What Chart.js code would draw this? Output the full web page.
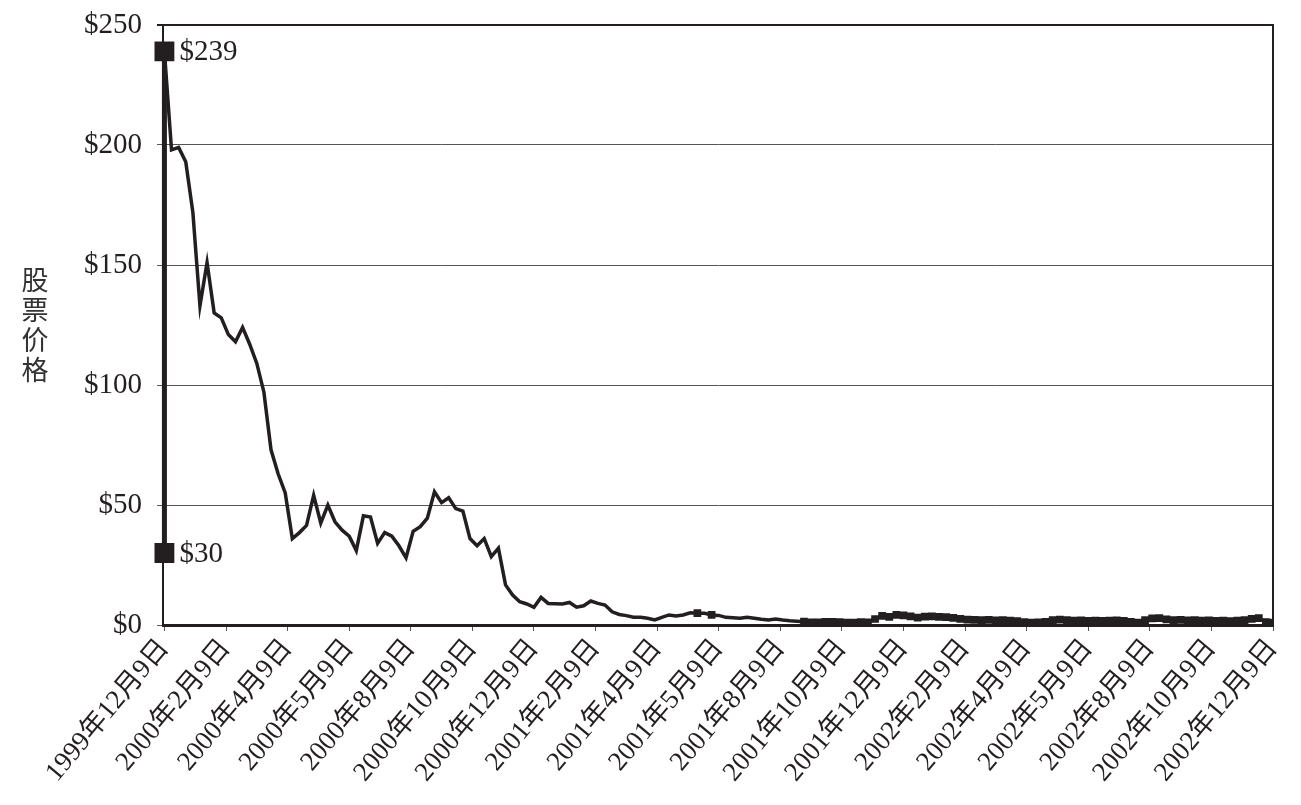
<!DOCTYPE html>
<html>
<head>
<meta charset="utf-8">
<script src="https://cdn.jsdelivr.net/npm/chart.js@4/dist/chart.umd.min.js"></script>
<style>
  body { margin: 0; background: #fff; }
  canvas { display: block; }
</style>
</head>
<body>
<canvas id="myChart" width="1301" height="805"></canvas>
<script>
const xLabels = ['1999年12月9日', '2000年2月9日', '2000年4月9日', '2000年5月9日', '2000年8月9日',
  '2000年10月9日', '2000年12月9日', '2001年2月9日', '2001年4月9日', '2001年5月9日',
  '2001年8月9日', '2001年10月9日', '2001年12月9日', '2002年2月9日', '2002年4月9日',
  '2002年5月9日', '2002年8月9日', '2002年10月9日', '2002年12月9日'];
const yTicks = [0, 50, 100, 150, 200, 250];
const yTitle = '股票价格';

// weekly closing price
const prices = [
  239, 198, 199, 193, 172, 133, 151, 130, 128, 121,
  118, 124, 117, 109, 97, 73, 63, 55, 36, 38.5,
  41.5, 54, 42.5, 50, 43, 39.5, 37, 31, 45.5, 45,
  34, 38.5, 37, 33, 28, 39, 41, 44.5, 55.5, 51,
  53, 48.5, 47.5, 36, 33, 36, 28.5, 32, 16.7, 12.5,
  9.7, 8.75, 7.4, 11.5, 9, 8.9, 8.75, 9.4, 7.4, 8,
  10, 9, 8.3, 5.5, 4.4, 3.9, 3.2, 3.2, 2.8, 2.1,
  3.2, 4.2, 3.75, 4.2, 5.1, 4.9, 4.9, 4.2, 4, 3.2,
  3, 2.8, 3.2, 2.8, 2.4, 2.1, 2.5, 2.1, 1.8, 1.6,
  1.4, 1.1, 1.1, 1.3, 1.3, 1.2, 1.0, 1.0, 1.2, 1.1,
  2.5, 3.8, 3.4, 4.2, 4.0, 3.6, 3.1, 3.5, 3.6, 3.4,
  3.3, 3.0, 2.6, 2.2, 2.1, 2.0, 2.1, 1.9, 2.0, 1.8,
  1.6, 1.2, 1.0, 1.1, 1.3, 2.0, 2.2, 2.0, 1.8, 1.9,
  1.7, 1.8, 1.7, 1.8, 1.9, 1.7, 1.3, 1.0, 2.0, 2.8,
  2.9, 2.3, 2.0, 2.1, 1.9, 2.0, 1.8, 1.9, 1.7, 1.8,
  1.6, 1.8, 2.0, 2.6, 2.9, 1.2, 1.0
];
const rangeMarks = [30, 239]; // low / high

const ink = '#231f20';
const serif = '"Liberation Serif", "Times New Roman", "Noto Sans CJK SC", serif';
const lastIdx = prices.length - 1;

const rangeLabels = {
  id: 'rangeLabels',
  afterDatasetsDraw(chart) {
    const { ctx, scales } = chart;
    ctx.save();
    ctx.fillStyle = ink;
    ctx.font = '29px ' + serif;
    ctx.textAlign = 'left';
    ctx.textBaseline = 'middle';
    rangeMarks.forEach(v => {
      ctx.fillText('$' + v, scales.x.getPixelForValue(0) + 15, scales.y.getPixelForValue(v) + 1);
    });
    ctx.restore();
  }
};

const frame = {
  id: 'frame',
  afterDraw(chart) {
    const { ctx, chartArea: a } = chart;
    ctx.save();
    ctx.strokeStyle = ink;
    ctx.lineWidth = 2;
    ctx.beginPath();
    ctx.moveTo(a.left - 6, a.top);
    ctx.lineTo(a.right, a.top);
    ctx.lineTo(a.right, a.bottom);
    ctx.stroke();
    ctx.restore();
  }
};

const verticalTitle = {
  id: 'verticalTitle',
  afterDraw(chart) {
    const { ctx, chartArea: a } = chart;
    const chars = yTitle.split('');
    const step = 30;
    const mid = (a.top + a.bottom) / 2;
    ctx.save();
    ctx.fillStyle = '#333';
    ctx.font = '27px "Noto Sans CJK SC", sans-serif';
    ctx.textAlign = 'center';
    ctx.textBaseline = 'middle';
    chars.forEach((c, i) => {
      ctx.fillText(c, 35, mid + (i - (chars.length - 1) / 2) * step);
    });
    ctx.restore();
  }
};

new Chart(document.getElementById('myChart'), {
  type: 'line',
  data: {
    datasets: [
      {
        label: 'range',
        data: rangeMarks.map(v => ({ x: 0, y: v })),
        borderColor: ink,
        backgroundColor: ink,
        borderWidth: 5,
        pointStyle: 'rect',
        pointRadius: 10.5,
        clip: false,
        order: 0,
      },
      {
        label: 'price',
        data: prices.map((v, i) => ({ x: i, y: v })),
        borderColor: ink,
        backgroundColor: ink,
        borderWidth: 3.5,
        tension: 0,
        pointStyle: 'rect',
        pointRadius: ctx => (ctx.dataIndex >= 90 || ctx.dataIndex === 75 || ctx.dataIndex === 77) ? 3 : 0,
        order: 1,
      },
    ],
  },
  options: {
    responsive: false,
    animation: false,
    devicePixelRatio: 1,
    layout: { padding: { left: 0, top: 25, right: 28, bottom: 0 } },
    plugins: {
      legend: { display: false },
      tooltip: { enabled: false },
    },
    scales: {
      x: {
        type: 'linear',
        min: -0.2,
        max: lastIdx,
        afterBuildTicks: s => {
          s.ticks = xLabels.map((l, i) => ({ value: i * lastIdx / (xLabels.length - 1) }));
        },
        afterFit: s => { s.height = 180; },
        border: { color: ink, width: 3 },
        grid: { drawOnChartArea: false, color: '#555', tickLength: 6, lineWidth: 1 },
        ticks: {
          autoSkip: false,
          minRotation: 50,
          maxRotation: 50,
          padding: 2,
          color: ink,
          font: { family: serif, size: 27 },
          callback: (v, i) => xLabels[i],
        },
      },
      y: {
        min: 0,
        max: 250,
        afterBuildTicks: s => {
          s.ticks = yTicks.map(v => ({ value: v }));
        },
        afterFit: s => {
          s.width = 163;
          s.paddingTop = 0;
          s.paddingBottom = 0;
        },
        border: { color: ink, width: 2 },
        grid: {
          color: '#555',
          lineWidth: 1,
          tickLength: 6,
        },
        ticks: {
          padding: 15,
          color: ink,
          font: { family: serif, size: 29 },
          callback: v => '$' + v,
        },
      },
    },
  },
  plugins: [rangeLabels, frame, verticalTitle],
});
</script>
</body>
</html>
